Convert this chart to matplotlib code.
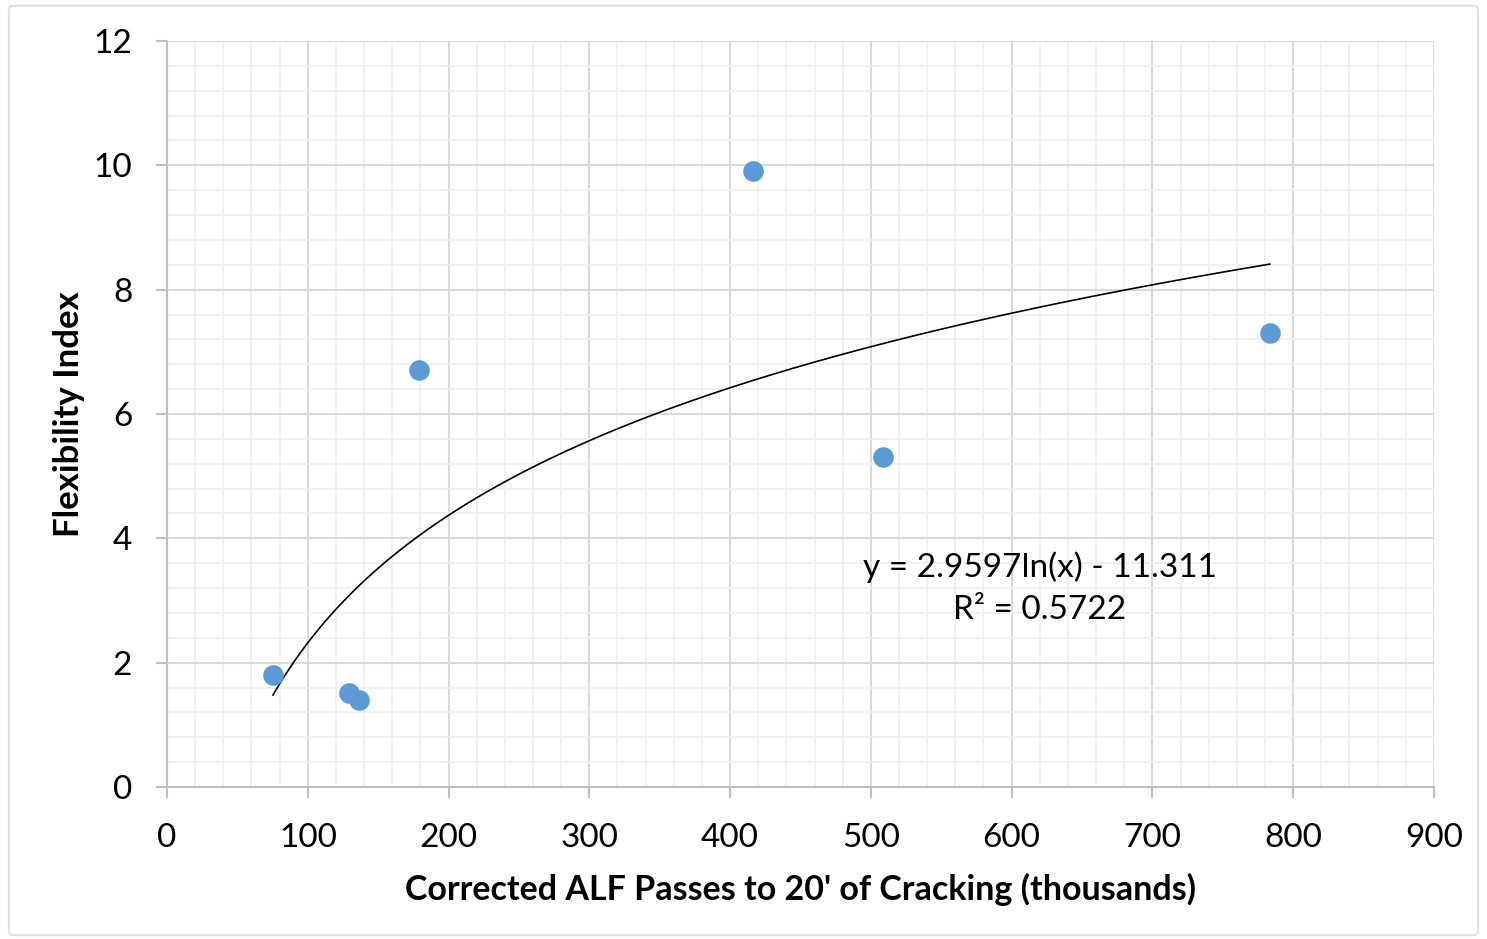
import numpy as np
import matplotlib
matplotlib.use("Agg")
import matplotlib.pyplot as plt
from matplotlib.patches import FancyBboxPatch
from matplotlib.ticker import MultipleLocator

plt.rcParams['font.family'] = ['Lato', 'DejaVu Sans']

# Data
passes = [75.3, 129.3, 136.4, 179.0, 416.3, 508.6, 783.5]
flex_index = [1.80, 1.51, 1.40, 6.71, 9.91, 5.31, 7.30]
coef_a = 2.9597
coef_b = -11.311
r2 = 0.5722
x_ticks = [0, 100, 200, 300, 400, 500, 600, 700, 800, 900]
y_ticks = [0, 2, 4, 6, 8, 10, 12]

fig = plt.figure(figsize=(14.87, 9.39), dpi=100)
ax = fig.add_axes([0.1123, 0.1619, 0.9643 - 0.1123, 0.9563 - 0.1619])

# border of chart area
border = FancyBboxPatch((0.006, 0.004), 0.988, 0.99, boxstyle="round,pad=0,rounding_size=0.004",
                        transform=fig.transFigure, facecolor='none', edgecolor='#e0e0e0', linewidth=1.5)
fig.patches.append(border)

ax.set_xlim(0, 900)
ax.set_ylim(0, 12)
ax.set_xticks(x_ticks)
ax.set_yticks(y_ticks)
ax.xaxis.set_minor_locator(MultipleLocator(20))
ax.yaxis.set_minor_locator(MultipleLocator(0.4))
ax.grid(which='minor', color='#efefef', linewidth=1.2, zorder=0)
ax.grid(which='major', color='#d9d9d9', linewidth=1.5, zorder=0)
ax.set_axisbelow(True)

for s in ['top', 'right']:
    ax.spines[s].set_visible(False)
for s in ['left', 'bottom']:
    ax.spines[s].set_color('#bfbfbf')
    ax.spines[s].set_linewidth(1.5)

ax.tick_params(which='major', length=8, width=1.5, color='#bfbfbf', labelsize=24)
ax.tick_params(which='minor', length=0)
ax.tick_params(axis='x', pad=18)
ax.tick_params(axis='y', pad=17)

# trendline
xs = np.linspace(min(passes), max(passes), 300)
ax.plot(xs, coef_a * np.log(xs) + coef_b, color='black', linewidth=1.2, zorder=2)

ax.scatter(passes, flex_index, s=220, color='#5b9bd5', zorder=3, linewidths=0)

ax.text(620, 3.20, f"y = {coef_a}ln(x) - {abs(coef_b)}\nR² = {r2}", ha='center', va='center',
        fontsize=24, linespacing=1.5)

ax.set_xlabel("Corrected ALF Passes to 20' of Cracking (thousands)", fontsize=24.5, fontweight='bold', labelpad=14)
ax.set_ylabel("Flexibility Index", fontsize=25, fontweight='bold', labelpad=6)

fig.savefig("out.png", dpi=100)
